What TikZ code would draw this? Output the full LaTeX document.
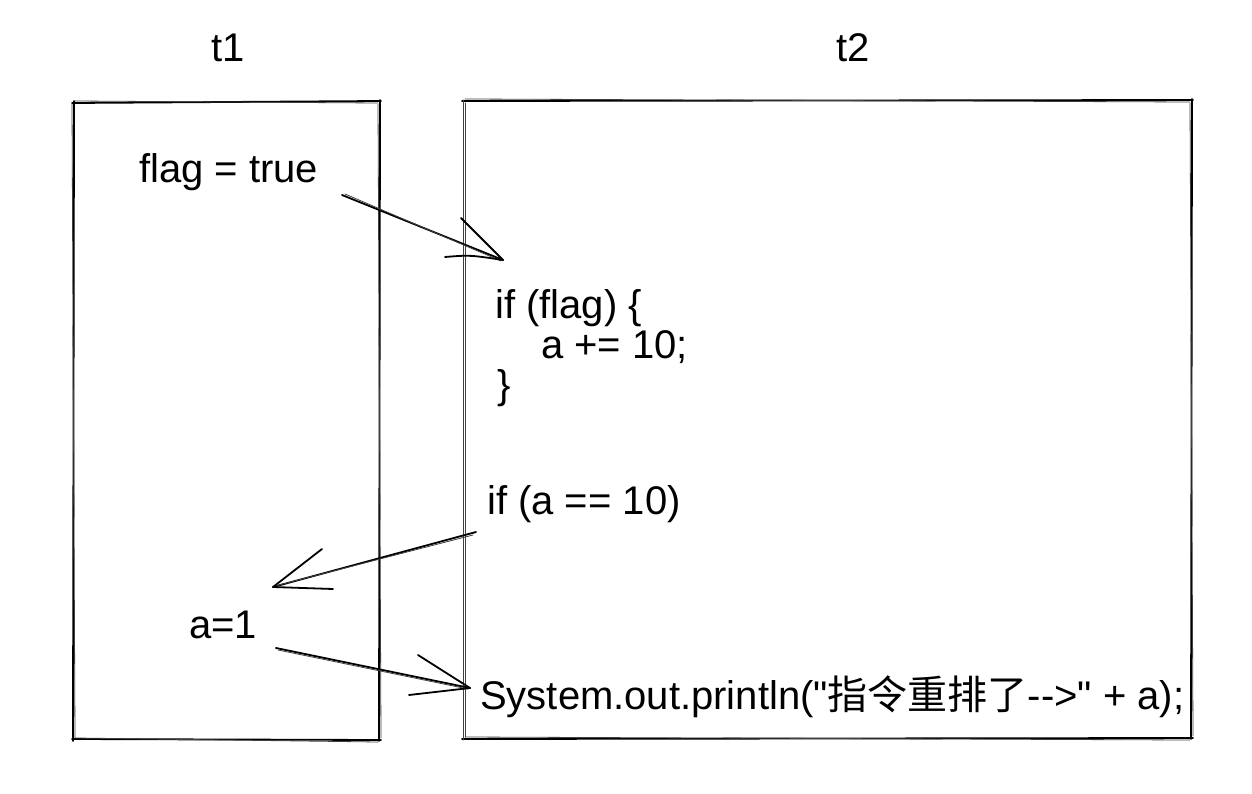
\documentclass[tikz,border=0pt]{standalone}
\usepackage{fontspec}
\setmainfont{Liberation Sans}[Ligatures=TeXOff]
\newfontfamily\cjk{Noto Sans CJK SC}
\begin{document}
\begin{tikzpicture}[x=1pt,y=-1pt,
  txt/.style={anchor=base west,inner sep=0pt,font=\fontsize{40}{40}\selectfont},
  sk/.style={line width=1.8pt,line cap=round,black},
  skt/.style={line width=0.8pt,line cap=round,black!75}]
\useasboundingbox (0,0) rectangle (1252,794);
% t1 box
\draw[sk] (72,103) -- (381,101);
\draw[skt] (75,101) -- (378,103);
\draw[sk] (380,100) -- (379,741);
\draw[skt] (378,104) -- (381,738);
\draw[sk] (381,740) -- (72,739);
\draw[skt] (378,742) -- (75,738);
\draw[sk] (73,741) -- (74,101);
\draw[skt] (75,738) -- (72,104);
% t2 box
\draw[sk] (462,101) -- (1193,100);
\draw[skt] (465,99) -- (1190,102);
\draw[sk] (1192,99) -- (1191,739);
\draw[skt] (1190,103) -- (1193,736);
\draw[sk] (1193,738) -- (462,739);
\draw[skt] (1190,740) -- (465,737);
\draw[skt] (463,740) -- (463,100);
\draw[skt] (465,737) -- (465,103);
% texts
\node[txt] (t1) at (211,62) {t1};
\node[txt] (t2) at (836,62) {t2};
\node[txt] (flag) at (139,183) {flag = true};
\node[txt] (if1) at (495,318) {if (flag) \{};
\node[txt] (add) at (541,358) {a += 10;};
\node[txt] (br) at (497,398) {\}};
\node[txt] (if2) at (487,514) {if (a == 10)};
\node[txt] (a1) at (189,638) {a=1};
\node[txt] (sys) at (480,709) {System.out.println("{\cjk 指令重排了}-{}-{}>" + a);};
% arrow 1
\coordinate (s1) at (342,195);
\coordinate (e1) at (503,260);
\draw[sk] (s1) -- (e1);
\draw[skt] ([shift={(3,-1)}]s1) -- ([shift={(-2,1)}]e1);
\draw[sk] (e1) -- (461,218);
\draw[sk] (e1) .. controls (470,255) .. (445,257);
% arrow 2
\coordinate (s2) at (476,532);
\coordinate (e2) at (273,587);
\draw[sk] (s2) -- (e2);
\draw[skt] ([shift={(-3,3)}]s2) -- ([shift={(2,-1)}]e2);
\draw[sk] (e2) -- (322,549);
\draw[sk] (e2) -- (333,589);
% arrow 3
\coordinate (s3) at (276,648);
\coordinate (e3) at (470,688);
\draw[sk] (s3) -- (e3);
\draw[skt] ([shift={(2,2)}]s3) -- ([shift={(-2,1)}]e3);
\draw[sk] (e3) -- (418,655);
\draw[sk] (e3) -- (409,695);
\end{tikzpicture}
\end{document}
